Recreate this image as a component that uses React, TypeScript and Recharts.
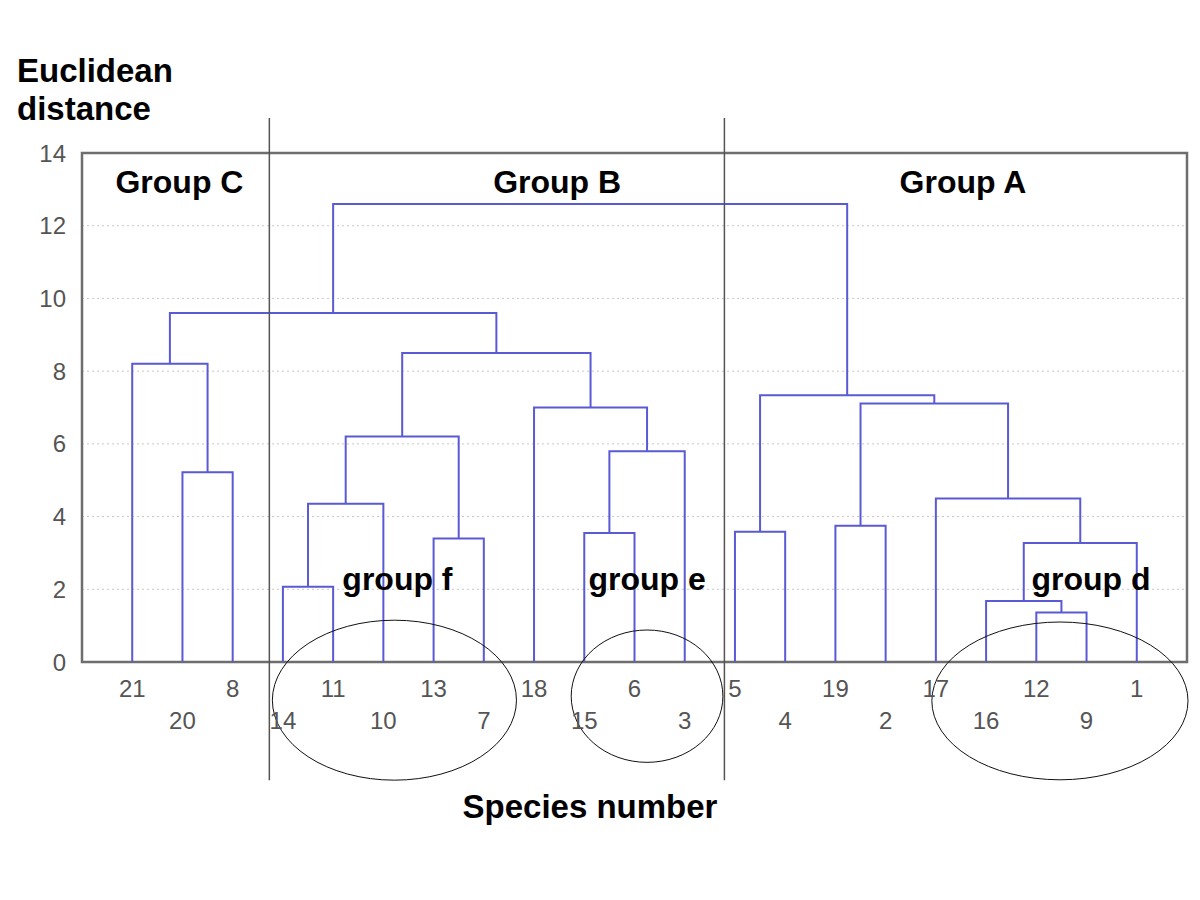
import React from "react";
import {
  LineChart,
  Line,
  XAxis,
  YAxis,
  CartesianGrid,
  ReferenceArea,
  ReferenceLine,
  ReferenceDot,
} from "recharts";

// Leaf order (species numbers, left to right)
const leaves = [21, 20, 8, 14, 11, 10, 13, 7, 18, 15, 6, 3, 5, 4, 19, 2, 17, 16, 12, 9, 1];

// Merges: "sN" = species N, "mK" = K-th merge (1-based)
const mergeLeft = ["s12", "s16", "m2", "s17", "s19", "m5", "s5", "m7", "s14", "m9", "s13", "m10", "s15", "m13", "s18", "m12", "s20", "s21", "m18", "m19"];
const mergeRight = ["s9", "m1", "s1", "m3", "s2", "m4", "s4", "m6", "s11", "s10", "s7", "m11", "s6", "s3", "m14", "m15", "s8", "m17", "m16", "m8"];
const mergeHeight = [1.36, 1.68, 3.27, 4.5, 3.75, 7.11, 3.58, 7.34, 2.07, 4.35, 3.4, 6.2, 3.55, 5.8, 7.0, 8.5, 5.22, 8.2, 9.6, 12.6];

const yTicks = [0, 2, 4, 6, 8, 10, 12, 14];

// Annotations (data units)
const groupNames = ["Group C", "Group B", "Group A"];
const groupX = [0.94, 8.46, 16.54];
const groupY = [12.9, 12.9, 12.9];
const subNames = ["group f", "group e", "group d"];
const subX = [5.28, 10.25, 19.09];
const subY = [1.98, 1.98, 1.98];
const ellipseX = [5.22, 10.25, 18.47];
const ellipseY = [-1.05, -0.94, -1.07];
const ellipseRx = [2.43, 1.51, 2.55];
const ellipseRy = [2.2, 1.82, 2.17];
const separatorX = [2.73, 11.79];
const separatorY = [-3.25, 14.96];

// Layout
const CHART_W = 1184;
const CHART_H = 884;
const MARGIN = { top: 145, right: 5, left: 14, bottom: 150 };
const Y_W = 60;
const X_H = 80;
const X_DOMAIN: [number, number] = [-1, 21];
const Y_DOMAIN: [number, number] = [0, 14];
const plotW = CHART_W - MARGIN.left - MARGIN.right - Y_W;
const plotH = CHART_H - MARGIN.top - MARGIN.bottom - X_H;
const xUnit = plotW / (X_DOMAIN[1] - X_DOMAIN[0]);
const yUnit = plotH / (Y_DOMAIN[1] - Y_DOMAIN[0]);

const LINK_COLOR = "#5a5ad4";
const FONT = "'Liberation Sans', Arial, sans-serif";

type Node = { x: number; h: number };

function buildLinks() {
  const nodes: Record<string, Node> = {};
  leaves.forEach((s, i) => {
    nodes["s" + s] = { x: i, h: 0 };
  });
  const links: { x: number; y: number }[][] = [];
  mergeHeight.forEach((h, k) => {
    const a = nodes[mergeLeft[k]];
    const b = nodes[mergeRight[k]];
    links.push([
      { x: a.x, y: a.h },
      { x: a.x, y: h },
      { x: b.x, y: h },
      { x: b.x, y: b.h },
    ]);
    nodes["m" + (k + 1)] = { x: (a.x + b.x) / 2, h };
  });
  return links;
}

const links = buildLinks();
const leafIdx = leaves.map((_, i) => i);

const LeafTick = (props: any) => {
  const { x, y, payload } = props;
  const i = payload.value as number;
  const label = leaves[i];
  const dy = i % 2 === 0 ? 35 : 67;
  return (
    <text
      x={x}
      y={y + dy}
      textAnchor="middle"
      fill="#555"
      fontSize={24}
      fontFamily={FONT}
    >
      {label}
    </text>
  );
};

export default function App() {
  return (
    <div style={{ position: "relative", width: CHART_W, height: CHART_H }}>
      <LineChart
        width={CHART_W}
        height={CHART_H}
        margin={MARGIN}
      >
        <CartesianGrid vertical={false} strokeDasharray="2 3" stroke="#c8c8c8" />
        <XAxis
          type="number"
          dataKey="x"
          domain={X_DOMAIN}
          ticks={leafIdx}
          interval={0}
          height={X_H}
          axisLine={false}
          tickLine={false}
          tickSize={0}
          tickMargin={0}
          tick={<LeafTick />}
        />
        <YAxis
          type="number"
          dataKey="y"
          domain={Y_DOMAIN}
          ticks={yTicks}
          interval={0}
          width={Y_W}
          axisLine={false}
          tickLine={false}
          tickSize={0}
          tickMargin={16}
          tick={{ fill: "#555", fontSize: 24, fontFamily: FONT }}
        />
        <ReferenceArea
          x1={X_DOMAIN[0]}
          x2={X_DOMAIN[1]}
          y1={Y_DOMAIN[0]}
          y2={Y_DOMAIN[1]}
          fill="none"
          fillOpacity={0}
          stroke="#6e6e6e"
          strokeWidth={2.5}
          ifOverflow="visible"
        />
        {links.map((d, k) => (
          <Line
            key={"l" + k}
            data={d}
            dataKey="y"
            type="linear"
            stroke={LINK_COLOR}
            strokeWidth={2}
            dot={false}
            activeDot={false}
            isAnimationActive={false}
          />
        ))}
        {separatorX.map((sx, k) => (
          <ReferenceLine
            key={"sep" + k}
            segment={[
              { x: sx, y: separatorY[0] },
              { x: sx, y: separatorY[1] },
            ]}
            stroke="#555"
            strokeWidth={1.5}
            ifOverflow="visible"
          />
        ))}
        {ellipseX.map((ex, k) => (
          <ReferenceDot
            key={"el" + k}
            x={ex}
            y={ellipseY[k]}
            r={0}
            ifOverflow="visible"
            shape={(p: any) => (
              <ellipse
                cx={p.cx}
                cy={p.cy}
                rx={ellipseRx[k] * xUnit}
                ry={ellipseRy[k] * yUnit}
                fill="none"
                stroke="#111"
                strokeWidth={1}
              />
            )}
          />
        ))}
        {groupNames.map((g, k) => (
          <ReferenceDot
            key={"g" + k}
            x={groupX[k]}
            y={groupY[k]}
            r={0}
            ifOverflow="visible"
            shape={(p: any) => (
              <text
                x={p.cx}
                y={p.cy}
                textAnchor="middle"
                fontSize={32}
                fontWeight="bold"
                fontFamily={FONT}
                fill="#000"
              >
                {g}
              </text>
            )}
          />
        ))}
        {subNames.map((g, k) => (
          <ReferenceDot
            key={"sg" + k}
            x={subX[k]}
            y={subY[k]}
            r={0}
            ifOverflow="visible"
            shape={(p: any) => (
              <text
                x={p.cx}
                y={p.cy}
                textAnchor="middle"
                fontSize={32}
                fontWeight="bold"
                fontFamily={FONT}
                fill="#000"
              >
                {g}
              </text>
            )}
          />
        ))}
      </LineChart>
      <svg
        width={CHART_W}
        height={CHART_H}
        style={{ position: "absolute", left: 0, top: 0, pointerEvents: "none" }}
      >
        <text x={9} y={74} fontSize={33} fontWeight="bold" fontFamily={FONT} fill="#000">
          Euclidean
        </text>
        <text x={9} y={112} fontSize={33} fontWeight="bold" fontFamily={FONT} fill="#000">
          distance
        </text>
        <text x={582} y={810} textAnchor="middle" fontSize={33} fontWeight="bold" fontFamily={FONT} fill="#000">
          Species number
        </text>
      </svg>
    </div>
  );
}
